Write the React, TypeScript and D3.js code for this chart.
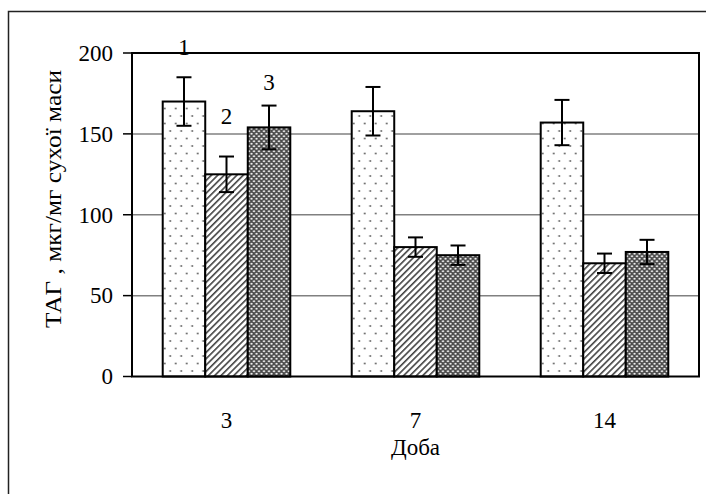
import React from "react";
import * as d3 from "d3";

const days = ["3", "7", "14"];
const seriesKeys = ["1", "2", "3"];
const means: number[][] = [
  [170, 164, 157],
  [125, 80, 70],
  [154, 75, 77],
];
const errors: number[][] = [
  [15, 15, 14],
  [11, 6, 6],
  [13.5, 6, 7.5],
];
const yTicks = [0, 50, 100, 150, 200];
const yTitle = "ТАГ , мкг/мг сухої маси";
const xTitle = "Доба";

const W = 706;
const H = 494;
const left = 132;
const right = 699;
const top = 53;
const bottom = 376.5;
const FONT = "Liberation Serif";
const labelGap = [22, 33, 16];

export default function App() {
  const y = d3.scaleLinear().domain([0, 200]).range([bottom, top]);
  const x0 = d3.scaleBand<string>().domain(days).range([left, right]).paddingInner(0.325).paddingOuter(0.1625);
  const x1 = d3.scaleBand<string>().domain(seriesKeys).range([0, x0.bandwidth()]);
  const fills = ["url(#dots)", "url(#hatch)", "url(#cross)"];

  return (
    <svg width={W} height={H} style={{ position: "absolute", left: 0, top: 0, background: "#fff" }}>
      <defs>
        <pattern id="dots" patternUnits="userSpaceOnUse" width={11} height={15}>
          <rect width={11} height={15} fill="#fff" />
          <circle cx={2} cy={3.5} r={0.9} fill="#555" />
          <circle cx={7.5} cy={11} r={0.9} fill="#555" />
        </pattern>
        <pattern id="hatch" patternUnits="userSpaceOnUse" width={4.5} height={4.5} patternTransform="rotate(45)">
          <rect width={4.5} height={4.5} fill="#fff" />
          <rect x={0} y={0} width={1.6} height={4.5} fill="#444" />
        </pattern>
        <pattern id="cross" patternUnits="userSpaceOnUse" width={5} height={5}>
          <rect width={5} height={5} fill="#4a4a4a" />
          <circle cx={1.25} cy={1.25} r={1.1} fill="#fff" />
          <circle cx={3.75} cy={3.75} r={1.1} fill="#fff" />
        </pattern>
      </defs>

      {/* outer frame */}
      <rect x={8.5} y={11.5} width={800} height={600} fill="none" stroke="#222" strokeWidth={1.5} />

      {/* gridlines */}
      {yTicks.filter((t) => t > 0 && t < 200).map((t) => (
        <line key={t} x1={left} x2={right} y1={y(t)} y2={y(t)} stroke="#808080" strokeWidth={1.5} />
      ))}

      {/* bars */}
      {days.map((d, di) => (
        <g key={d} transform={`translate(${x0(d)},0)`}>
          {seriesKeys.map((s, si) => {
            const v = means[si][di];
            const e = errors[si][di];
            const bx = x1(s)!;
            const bw = x1.bandwidth();
            const cx = bx + bw / 2;
            return (
              <g key={s}>
                <rect x={bx} y={y(v)} width={bw} height={bottom - y(v)} fill={fills[si]} stroke="#000" strokeWidth={2} />
                <line x1={cx} x2={cx} y1={y(v + e)} y2={y(v - e)} stroke="#000" strokeWidth={2} />
                <line x1={cx - 7.5} x2={cx + 7.5} y1={y(v + e)} y2={y(v + e)} stroke="#000" strokeWidth={2} />
                <line x1={cx - 7.5} x2={cx + 7.5} y1={y(v - e)} y2={y(v - e)} stroke="#000" strokeWidth={2} />
                {di === 0 && (
                  <text x={cx} y={y(v + e) - labelGap[si]} textAnchor="middle" fontFamily={FONT} fontSize={23}>
                    {s}
                  </text>
                )}
              </g>
            );
          })}
        </g>
      ))}

      {/* plot border */}
      <rect x={left} y={top} width={right - left} height={bottom - top} fill="none" stroke="#000" strokeWidth={2} />

      {/* y ticks */}
      {yTicks.map((t) => (
        <g key={t}>
          <line x1={left - 9} x2={left} y1={y(t)} y2={y(t)} stroke="#000" strokeWidth={1.5} />
          <text x={113} y={y(t)} dy="0.34em" textAnchor="end" fontFamily={FONT} fontSize={23}>
            {t}
          </text>
        </g>
      ))}

      {/* x labels */}
      {days.map((d) => (
        <text key={d} x={x0(d)! + x0.bandwidth() / 2} y={428} textAnchor="middle" fontFamily={FONT} fontSize={23}>
          {d}
        </text>
      ))}
      <text x={(left + right) / 2} y={455} textAnchor="middle" fontFamily={FONT} fontSize={23}>
        {xTitle}
      </text>

      <text
        transform={`translate(61,199) rotate(-90)`}
        textAnchor="middle"
        fontFamily={FONT}
        fontSize={24}
        textLength={258}
        lengthAdjust="spacingAndGlyphs"
      >
        {yTitle}
      </text>
    </svg>
  );
}
